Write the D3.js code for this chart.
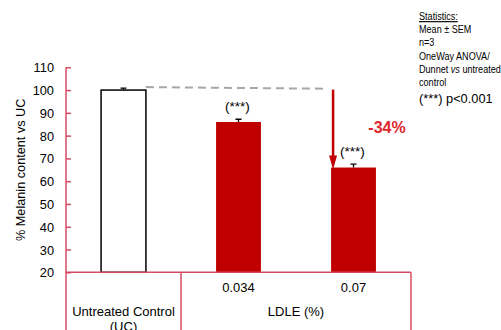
<!DOCTYPE html>
<html>
<head>
<meta charset="utf-8">
<script src="https://cdn.jsdelivr.net/npm/d3@7"></script>
<style>
  body { margin: 0; background: #fff; }
  svg { display: block; font-family: "Liberation Sans", Arial, sans-serif; }
</style>
</head>
<body>
<div id="chart"></div>
<script>
// data
var categories = ["UC", "0.034", "0.07"];
var means = [100, 86, 66];
var sems = [0.9, 1.2, 1.5];
var signif = ["", "(***)", "(***)"];
var yTicks = [20, 30, 40, 50, 60, 70, 80, 90, 100, 110];
var statsLines = ["Statistics:", "Mean \u00b1 SEM", "n=3", "OneWay ANOVA/", "Dunnet vs untreated", "control"];

var width = 501, height = 330;
var axisRed = "#d64b63";
var barRed = "#c00000";

var svg = d3.select("#chart").append("svg")
    .attr("width", width)
    .attr("height", height);

var xScale = d3.scaleBand()
    .domain(categories)
    .range([66, 411])
    .paddingInner(0.61)
    .paddingOuter(0.305);

var yScale = d3.scaleLinear()
    .domain([20, 110])
    .range([272.3, 67.3]);

// bars
svg.selectAll(".bar")
    .data(means)
  .enter()
    .append("rect")
    .attr("class", "bar")
    .attr("x", function(d, i) { return xScale(categories[i]); })
    .attr("y", function(d) { return yScale(d); })
    .attr("width", xScale.bandwidth())
    .attr("height", function(d) { return yScale(20) - yScale(d); })
    .style("fill", function(d, i) { return i == 0 ? "#fff" : barRed; })
    .style("stroke", function(d, i) { return i == 0 ? "#000" : "none"; })
    .style("stroke-width", 1.5);

// error bars (upper half only shows)
svg.selectAll(".err")
    .data(means)
  .enter()
    .append("path")
    .attr("class", "err")
    .attr("d", function(d, i) {
      var cx = xScale(categories[i]) + xScale.bandwidth() / 2;
      var top = yScale(d + sems[i]);
      return "M" + cx + "," + yScale(d) + "V" + top + "M" + (cx - 3) + "," + top + "H" + (cx + 3);
    })
    .style("stroke", "#000")
    .style("stroke-width", 1.3)
    .style("fill", "none");

// significance labels
svg.selectAll(".sig")
    .data(signif)
  .enter()
    .append("text")
    .attr("class", "sig")
    .attr("x", function(d, i) { return xScale(categories[i]) + xScale.bandwidth() / 2 - 1; })
    .attr("y", function(d, i) { return yScale(means[i] + sems[i]) - 8; })
    .attr("text-anchor", "middle")
    .style("font-size", "13.5px")
    .style("fill", "#000")
    .text(function(d) { return d; });

// y axis
var yAxis = d3.axisRight(yScale)
    .tickValues(yTicks)
    .tickSize(5)
    .tickFormat(d3.format("d"));

var gy = svg.append("g")
    .attr("class", "y axis")
    .attr("transform", "translate(66,0)")
    .call(yAxis);
gy.select(".domain").remove();
gy.selectAll(".tick line").style("stroke", axisRed).style("stroke-width", 1.5);
gy.selectAll("text")
    .attr("x", -12)
    .attr("text-anchor", "end")
    .attr("dy", "0.35em")
    .style("font-size", "12.8px")
    .style("fill", "#000");

svg.append("line")
    .attr("x1", 66).attr("x2", 66)
    .attr("y1", yScale(110)).attr("y2", height)
    .style("stroke", axisRed).style("stroke-width", 1.5);

// category box below the axis
svg.append("line")
    .attr("x1", 66).attr("x2", 411)
    .attr("y1", yScale(20)).attr("y2", yScale(20))
    .style("stroke", axisRed).style("stroke-width", 1.5);

var dividers = [66 + xScale.step(), 66 + 3 * xScale.step()];
svg.selectAll(".divider")
    .data(dividers)
  .enter()
    .append("line")
    .attr("class", "divider")
    .attr("x1", function(d) { return d; })
    .attr("x2", function(d) { return d; })
    .attr("y1", yScale(20))
    .attr("y2", height)
    .style("stroke", axisRed)
    .style("stroke-width", 1.5);

// dose labels
svg.selectAll(".dose")
    .data(categories.slice(1))
  .enter()
    .append("text")
    .attr("class", "dose")
    .attr("x", function(d) { return xScale(d) + xScale.bandwidth() / 2; })
    .attr("y", 292)
    .attr("text-anchor", "middle")
    .style("font-size", "13px")
    .text(function(d) { return d; });

svg.append("text")
    .attr("x", (xScale("0.034") + xScale("0.07") + xScale.bandwidth()) / 2)
    .attr("y", 316)
    .attr("text-anchor", "middle")
    .style("font-size", "13px")
    .text("LDLE (%)");

var ucX = xScale("UC") + xScale.bandwidth() / 2;
svg.append("text")
    .attr("x", ucX)
    .attr("y", 316)
    .attr("text-anchor", "middle")
    .style("font-size", "13px")
    .text("Untreated Control");
svg.append("text")
    .attr("x", ucX)
    .attr("y", 330.5)
    .attr("text-anchor", "middle")
    .style("font-size", "13px")
    .text("(UC)");

// y title
svg.append("text")
    .attr("transform", "translate(25," + ((yScale(110) + yScale(20)) / 2) + ") rotate(-90)")
    .attr("text-anchor", "middle")
    .style("font-size", "12.7px")
    .text("% Melanin content vs UC");

// dashed reference line from control level
svg.append("line")
    .attr("x1", xScale("UC") + xScale.bandwidth())
    .attr("y1", yScale(101.3))
    .attr("x2", xScale("0.07") - 5)
    .attr("y2", yScale(100.6))
    .style("stroke", "#a6a6a6")
    .style("stroke-width", 2)
    .style("stroke-dasharray", "8,5");

// red arrow down to the highest dose
var ax = xScale("0.07") + 2;
svg.append("line")
    .attr("x1", ax).attr("x2", ax)
    .attr("y1", yScale(100.2))
    .attr("y2", yScale(means[2]) - 10)
    .style("stroke", barRed)
    .style("stroke-width", 2.5);
svg.append("path")
    .attr("d", "M" + (ax - 4) + "," + (yScale(means[2]) - 12) +
               "L" + (ax + 4) + "," + (yScale(means[2]) - 12) +
               "L" + ax + "," + (yScale(means[2]) + 2) + "Z")
    .style("fill", barRed);

svg.append("text")
    .attr("x", 387)
    .attr("y", 133)
    .attr("text-anchor", "middle")
    .style("font-size", "16px")
    .style("font-weight", "bold")
    .style("fill", "#e0262c")
    .text(d3.format(".0%")((means[2] - means[0]) / means[0]).replace("\u2212", "-"));

// statistics note
var stats = svg.append("g")
    .attr("transform", "translate(419,0) scale(0.79,1)");
stats.selectAll(".stat")
    .data(statsLines)
  .enter()
    .append("text")
    .attr("class", "stat")
    .attr("x", 0)
    .attr("y", function(d, i) { return 20 + i * 13.2; })
    .style("font-size", "11.5px")
    .each(function(d) {
      var t = d3.select(this);
      if (d.indexOf(" vs ") > 0) {
        var parts = d.split(" vs ");
        t.append("tspan").text(parts[0] + " ");
        t.append("tspan").style("font-style", "italic").text("vs");
        t.append("tspan").text(" " + parts[1]);
      } else {
        t.text(d);
      }
    });
stats.select(".stat").style("text-decoration", "underline");
svg.append("text")
    .attr("x", 419)
    .attr("y", 103)
    .style("font-size", "12.8px")
    .text("(***) p<0.001");
</script>
</body>
</html>
